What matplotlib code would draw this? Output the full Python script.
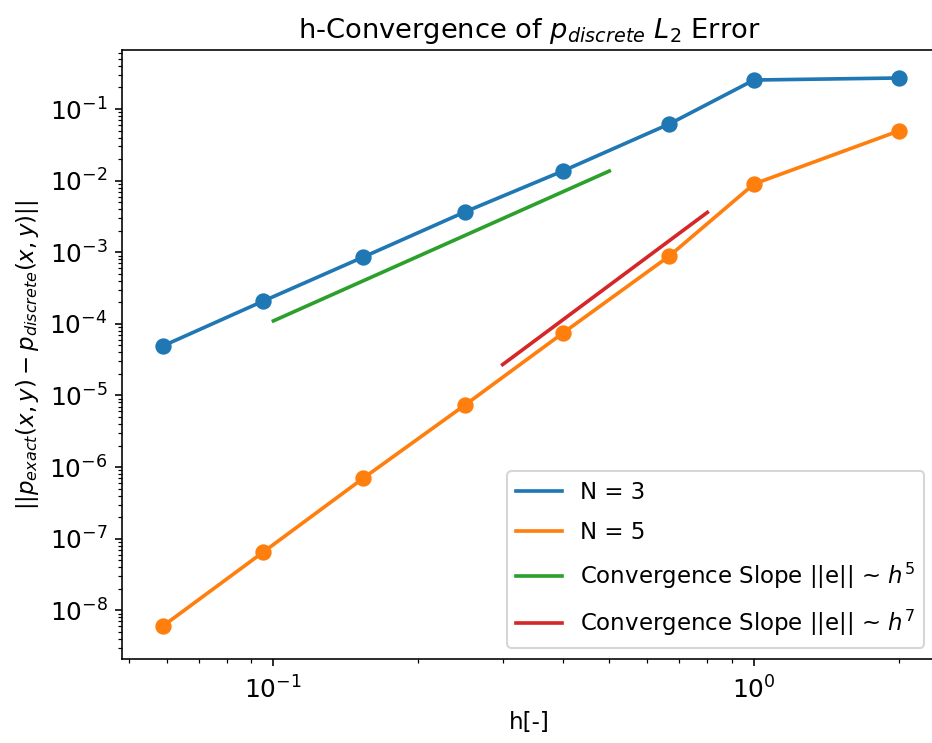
import numpy as np
import matplotlib
matplotlib.use("Agg")
from matplotlib import pyplot as plt

plt.rcParams['font.size'] = 11.3
plt.rcParams['xtick.labelsize'] = 12.3
plt.rcParams['ytick.labelsize'] = 12.3

# element size h and L2 errors
h = [2.0, 1.0, 2/3, 0.4, 0.25, 2/13, 2/21, 2/34]
err_n3 = [2.71e-1, 2.54e-1, 6.18e-2, 1.36e-2, 3.64e-3, 8.57e-4, 2.08e-4, 4.9e-5]
err_n5 = [4.93e-2, 8.97e-3, 8.85e-4, 7.4e-5, 7.3e-6, 7.0e-7, 6.5e-8, 6.0e-9]

# reference slope segments (end points)
h_slope5 = [0.1, 0.5]
e_slope5 = [1.1e-4, 1.36e-2]
h_slope7 = [0.3, 0.8]
e_slope7 = [2.7e-5, 3.6e-3]

fig = plt.figure(figsize=(932/145.6, 743/145.6), dpi=145.6)
ax = fig.add_axes([122/932, 1-659/743, 1-122/932+0.004, (659-50)/743])

ax.plot(h, err_n3, color='C0', lw=1.8, label='N = 3')
ax.scatter(h, err_n3, color='C0', s=50, zorder=3)
ax.plot(h, err_n5, color='C1', lw=1.8, label='N = 5')
ax.scatter(h, err_n5, color='C1', s=50, zorder=3)
ax.plot(h_slope5, e_slope5, color='C2', lw=1.8, label=r'Convergence Slope ||e|| ~ $h^5$')
ax.plot(h_slope7, e_slope7, color='C3', lw=1.8, label=r'Convergence Slope ||e|| ~ $h^7$')

ax.set_xscale('log')
ax.set_yscale('log')
ax.set_xlim(0.0484, 2.39)
ax.set_ylim(10**-8.68, 10**-0.176)
ax.tick_params(axis='x', which='major', pad=5)
ax.set_title(r'h-Convergence of $p_{discrete}$ $L_2$ Error')
ax.set_xlabel('h[-]')
ax.set_ylabel(r'$||p_{exact}(x,y) - p_{discrete}(x,y)||$')
ax.legend(loc='lower right', labelspacing=0.75)

fig.savefig('out.png', dpi=145.6)
